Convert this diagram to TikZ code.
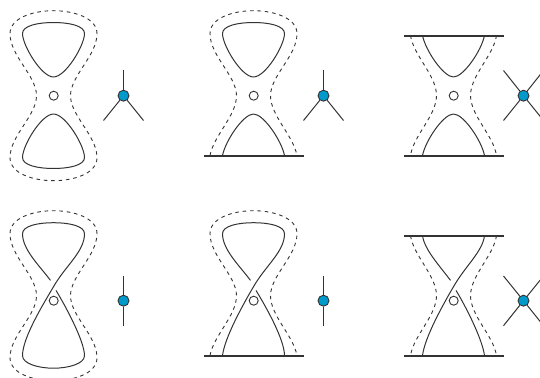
\documentclass[tikz,border=0pt]{standalone}
\definecolor{ink}{HTML}{333333}
\definecolor{dotblue}{HTML}{0099CC}
\newcommand{\LoopTop}{(31,-62) .. controls (31,-70) and (15,-73) .. (0,-73) .. controls (-15,-73) and (-31,-70) .. (-31,-62)}
\newcommand{\DashL}{.. controls (-43.5,-40) and (-17,-20) .. (-17,0) .. controls (-17,20) and (-43.5,40) ..}
\newcommand{\DashR}{.. controls (43.5,40) and (17,20) .. (17,0) .. controls (17,-20) and (43.5,-40) ..}
\tikzset{
  x=1pt,y=-1pt,
  curve/.style={draw=ink,line width=1pt,line join=round},
  dashline/.style={draw=ink,line width=0.9pt,dash pattern=on 3.6pt off 3.8pt},
  bar/.style={draw=ink,line width=1.9pt},
  hole/.style={circle,draw=ink,line width=0.9pt,fill=white,minimum size=9pt,inner sep=0pt},
  vertex/.style={circle,draw=ink,line width=0.9pt,fill=dotblue,minimum size=11pt,inner sep=0pt},
  leg/.style={draw=ink,line width=1pt},
  dashclosed/.pic={\path[dashline] (43.5,-62) .. controls (43.5,-78) and (20,-85) .. (0,-85) .. controls (-20,-85) and (-43.5,-78) .. (-43.5,-62) \DashL (-43.5,62) .. controls (-43.5,78) and (-20,85) .. (0,85) .. controls (20,85) and (43.5,78) .. (43.5,62) \DashR cycle;},
  dashopenbot/.pic={\path[dashline] (-43.5,60) .. controls (-40,40) and (-17,20) .. (-17,0) .. controls (-17,-20) and (-43.5,-40) .. (-43.5,-62) .. controls (-43.5,-78) and (-20,-85) .. (0,-85) .. controls (20,-85) and (43.5,-78) .. (43.5,-62) .. controls (43.5,-40) and (17,-20) .. (17,0) .. controls (17,20) and (40,40) .. (43.5,60);},
  dashopen/.pic={\path[dashline] (-43,-60) .. controls (-40,-40) and (-17,-20) .. (-17,0) .. controls (-17,20) and (-40,40) .. (-43,60);
                 \path[dashline] (43,-60) .. controls (40,-40) and (17,-20) .. (17,0) .. controls (17,20) and (40,40) .. (43,60);},
  loopup/.pic={\path[curve] (0,-18.5) .. controls (12,-18.5) and (31,-50) .. \LoopTop .. controls (-31,-50) and (-12,-18.5) .. cycle;},
  loopdown/.pic={\path[curve] (0,18.5) .. controls (12,18.5) and (31,50) .. (31,62) .. controls (31,70) and (15,73) .. (0,73) .. controls (-15,73) and (-31,70) .. (-31,62) .. controls (-31,50) and (-12,18.5) .. cycle;},
  archdown/.pic={\path[curve] (-31,60) .. controls (-28,45) and (-10,18.5) .. (0,18.5) .. controls (10,18.5) and (28,45) .. (31,60);},
  archup/.pic={\path[curve] (-31,-60) .. controls (-28,-45) and (-10,-18.5) .. (0,-18.5) .. controls (10,-18.5) and (28,-45) .. (31,-60);},
  crossclosed/.pic={
    \path[curve] (2.5,-5.3) .. controls (13,12) and (31,46) .. (31,60) .. controls (31,68) and (15,72.5) .. (0,72.5) .. controls (-15,72.5) and (-31,68) .. (-31,60) .. controls (-31,42) and (-10,8) .. (0,-9) .. controls (12,-30) and (31,-44) .. \LoopTop .. controls (-31,-46) and (-14,-30) .. (-3,-15.3);},
  crossbot/.pic={
    \path[curve] (2.5,-5.3) .. controls (13,12) and (31,44) .. (31,60);
    \path[curve] (-31,60) .. controls (-29,42) and (-10,8) .. (0,-9) .. controls (12,-30) and (31,-44) .. \LoopTop .. controls (-31,-46) and (-14,-30) .. (-3,-15.3);},
  crossboth/.pic={
    \path[curve] (2.5,-5.3) .. controls (13,12) and (29,44) .. (31,60);
    \path[curve] (-31,60) .. controls (-29,42) and (-10,8) .. (0,-9) .. controls (12,-30) and (29,-44) .. (31,-60);
    \path[curve] (-31,-60) .. controls (-29,-46) and (-14,-30) .. (-3,-15.3);}
}
\begin{document}
\begin{tikzpicture}
\useasboundingbox (0,0) rectangle (540,377);
\clip (0,0) rectangle (540,377);
% row 1
\pic at (53.5,95.7) {dashclosed};
\pic at (53.5,95.5) {loopup};
\pic at (53.5,95.5) {loopdown};
\node[hole] (h1) at (53.7,95.7) {};
\node[vertex] (v1) at (123.5,95.7) {};
\coordinate (a1) at (123.5,70.5); \coordinate (b1) at (103.5,120.5); \coordinate (c1) at (143.5,120.5);
\draw[leg] (v1) -- (a1); \draw[leg] (v1) -- (b1); \draw[leg] (v1) -- (c1);

\pic at (253.5,95.7) {dashopenbot};
\pic at (253.5,95.5) {loopup};
\pic at (253.5,95.5) {archdown};
\coordinate (l2) at (203.5,155.8); \coordinate (r2) at (303.5,155.8);
\draw[bar] (l2) -- (r2);
\node[hole] (h2) at (253.7,95.7) {};
\node[vertex] (v2) at (323.5,95.7) {};
\coordinate (a2) at (323.5,70.5); \coordinate (b2) at (303.5,120.5); \coordinate (c2) at (343.5,120.5);
\draw[leg] (v2) -- (a2); \draw[leg] (v2) -- (b2); \draw[leg] (v2) -- (c2);

\pic at (453.5,95.5) {dashopen};
\pic at (453.5,95.5) {archup};
\pic at (453.5,95.5) {archdown};
\coordinate (l3) at (403.5,35.8); \coordinate (r3) at (503.5,35.8);
\coordinate (l4) at (403.5,155.8); \coordinate (r4) at (503.5,155.8);
\draw[bar] (l3) -- (r3); \draw[bar] (l4) -- (r4);
\node[hole] (h3) at (453.7,95.7) {};
\node[vertex] (v3) at (523.5,95.7) {};
\coordinate (a3) at (503.5,70.5); \coordinate (b3) at (503.5,120.5); \coordinate (c3) at (543.5,70.5); \coordinate (d3) at (543.5,120.5);
\draw[leg] (v3) -- (a3); \draw[leg] (v3) -- (b3); \draw[leg] (v3) -- (c3); \draw[leg] (v3) -- (d3);

% row 2
\pic at (53.5,295.7) {dashclosed};
\pic at (53.5,295.7) {crossclosed};
\node[hole] (h4) at (53.7,300.7) {};
\node[vertex] (v4) at (123.5,300.7) {};
\coordinate (a4) at (123.5,276); \coordinate (b4) at (123.5,325.7);
\draw[leg] (v4) -- (a4); \draw[leg] (v4) -- (b4);

\pic at (253.5,295.7) {dashopenbot};
\pic at (253.5,295.7) {crossbot};
\coordinate (l5) at (203.5,355.8); \coordinate (r5) at (303.5,355.8);
\draw[bar] (l5) -- (r5);
\node[hole] (h5) at (253.7,300.7) {};
\node[vertex] (v5) at (323.5,300.7) {};
\coordinate (a5) at (323.5,276); \coordinate (b5) at (323.5,325.7);
\draw[leg] (v5) -- (a5); \draw[leg] (v5) -- (b5);

\pic at (453.5,295.7) {dashopen};
\pic at (453.5,295.7) {crossboth};
\coordinate (l6) at (403.5,235.8); \coordinate (r6) at (503.5,235.8);
\coordinate (l7) at (403.5,355.8); \coordinate (r7) at (503.5,355.8);
\draw[bar] (l6) -- (r6); \draw[bar] (l7) -- (r7);
\node[hole] (h6) at (453.7,300.7) {};
\node[vertex] (v6) at (523.5,300.7) {};
\coordinate (a6) at (503.5,276); \coordinate (b6) at (503.5,325.7); \coordinate (c6) at (543.5,276); \coordinate (d6) at (543.5,325.7);
\draw[leg] (v6) -- (a6); \draw[leg] (v6) -- (b6); \draw[leg] (v6) -- (c6); \draw[leg] (v6) -- (d6);
\end{tikzpicture}
\end{document}
